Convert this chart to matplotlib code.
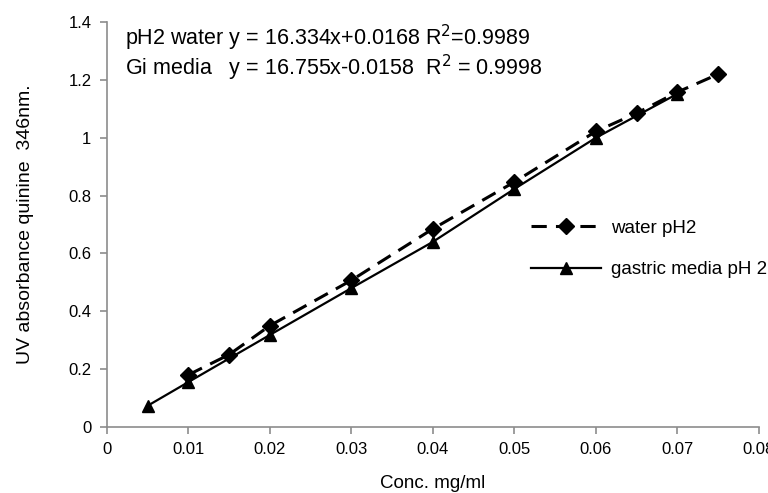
import matplotlib
matplotlib.use("Agg")
import matplotlib.pyplot as plt

# Calibration data: UV absorbance of quinine at 346 nm
conc_water = [0.01, 0.015, 0.02, 0.03, 0.04, 0.05, 0.06, 0.065, 0.07, 0.075]
abs_water = [0.18, 0.25, 0.35, 0.507, 0.685, 0.847, 1.022, 1.085, 1.158, 1.22]

conc_gastric = [0.005, 0.01, 0.02, 0.03, 0.04, 0.05, 0.06, 0.07]
abs_gastric = [0.073, 0.155, 0.318, 0.48, 0.64, 0.823, 1.0, 1.152]

x_ticks = [0, 0.01, 0.02, 0.03, 0.04, 0.05, 0.06, 0.07, 0.08]
x_tick_labels = ["0", "0.01", "0.02", "0.03", "0.04", "0.05", "0.06", "0.07", "0.08"]
y_ticks = [0, 0.2, 0.4, 0.6, 0.8, 1.0, 1.2, 1.4]
y_tick_labels = ["0", "0.2", "0.4", "0.6", "0.8", "1", "1.2", "1.4"]

plt.rcParams["font.family"] = ["Liberation Sans", "DejaVu Sans"]

fig = plt.figure(figsize=(7.68, 4.93), dpi=100)
ax = fig.add_axes([0.139, 0.134, 0.849, 0.821])

ax.plot(conc_water, abs_water, color="black", linestyle=(0, (5, 3)), linewidth=2.2,
        marker="D", markersize=8, label="water pH2")
ax.plot(conc_gastric, abs_gastric, color="black", linestyle="-", linewidth=1.6,
        marker="^", markersize=9, label="gastric media pH 2")

ax.set_xlim(0, 0.08)
ax.set_ylim(0, 1.4)
ax.set_xticks(x_ticks)
ax.set_xticklabels(x_tick_labels)
ax.set_yticks(y_ticks)
ax.set_yticklabels(y_tick_labels)

for side in ("top", "right"):
    ax.spines[side].set_visible(False)
for side in ("left", "bottom"):
    ax.spines[side].set_color("#8c8c8c")
    ax.spines[side].set_linewidth(1.2)
ax.tick_params(axis="both", direction="out", length=5, width=1.2, color="#8c8c8c",
               labelsize=12, pad=6)

ax.set_xlabel("Conc. mg/ml", fontsize=13.5, labelpad=13)
ax.set_ylabel("UV absorbance quinine  346nm.", fontsize=14, labelpad=25)

ax.text(0.0022, 1.345, "pH2 water y = 16.334x+0.0168 R$^{2}$=0.9989", fontsize=15.5,
        va="center", ha="left")
ax.text(0.0022, 1.243, "Gi media   y = 16.755x-0.0158  R$^{2}$ = 0.9998", fontsize=15.5,
        va="center", ha="left")

ax.legend(loc="center left", bbox_to_anchor=(0.625, 0.44), frameon=False, fontsize=13.5,
          handlelength=3.7, handletextpad=0.55, labelspacing=1.3)

fig.savefig("out.png", dpi=100)
